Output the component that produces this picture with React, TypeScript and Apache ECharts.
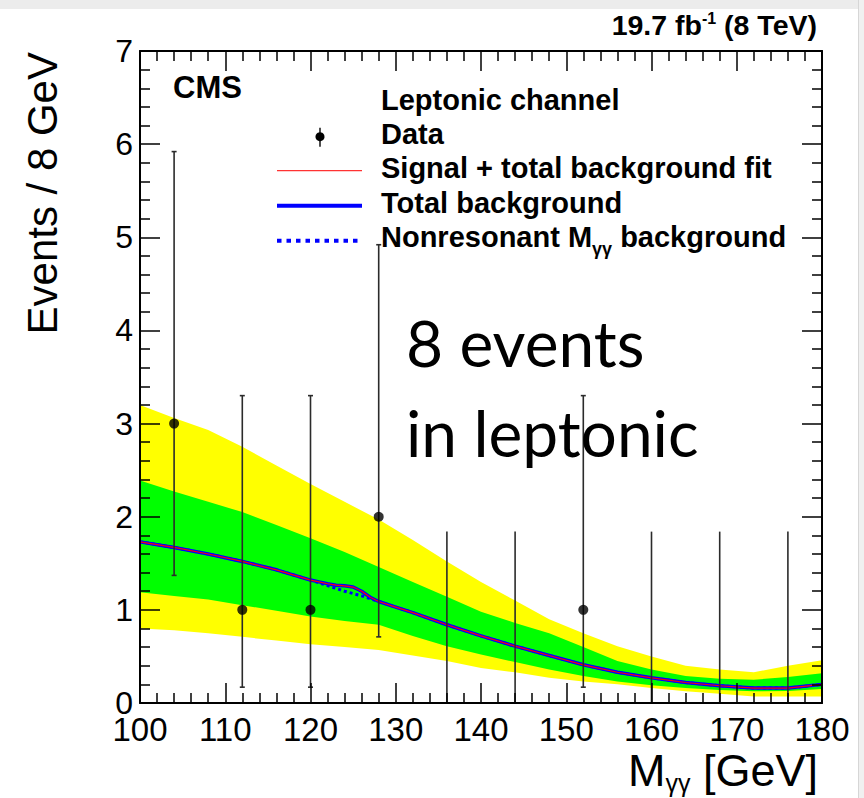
import React, { useEffect, useRef } from 'react';
import * as echarts from 'echarts';

// ---- Data ----
const binCenters = [104, 112, 120, 128, 136, 144, 152, 160, 168, 176];
const counts = [3, 1, 1, 2, 0, 0, 1, 0, 0, 0];
const errLow = [1.37, 0.17, 0.17, 0.71, 0, 0, 0.17, 0, 0, 0];
const errHigh = [5.92, 3.3, 3.3, 4.92, 1.84, 1.84, 3.3, 1.84, 1.84, 1.84];

const bandX = [100, 104, 108, 112, 116, 120, 124, 128, 132, 136, 140, 144, 148, 152, 156, 160, 164, 168, 172, 176, 180];
const yellowHigh = [3.2, 3.06, 2.93, 2.75, 2.55, 2.35, 2.16, 1.97, 1.75, 1.52, 1.3, 1.1, 0.9, 0.75, 0.61, 0.5, 0.4, 0.36, 0.33, 0.4, 0.46];
const greenHigh = [2.39, 2.27, 2.16, 2.05, 1.91, 1.77, 1.62, 1.46, 1.3, 1.14, 0.98, 0.86, 0.75, 0.6, 0.45, 0.36, 0.29, 0.26, 0.25, 0.28, 0.32];
const greenLow = [1.19, 1.15, 1.11, 1.05, 0.99, 0.93, 0.88, 0.84, 0.72, 0.61, 0.52, 0.44, 0.36, 0.29, 0.23, 0.19, 0.16, 0.14, 0.125, 0.13, 0.15];
const yellowLow = [0.8, 0.78, 0.75, 0.71, 0.67, 0.63, 0.6, 0.57, 0.51, 0.45, 0.375, 0.33, 0.27, 0.23, 0.2, 0.16, 0.125, 0.1, 0.07, 0.07, 0.07];

const curveX = [100, 104, 108, 112, 116, 120, 121, 122, 123, 124, 125, 126, 127, 128, 130, 132, 136, 140, 144, 148, 152, 156, 160, 164, 168, 172, 176, 180];
const totalBkg = [1.73, 1.67, 1.6, 1.52, 1.43, 1.32, 1.3, 1.28, 1.265, 1.258, 1.245, 1.2, 1.135, 1.09, 1.03, 0.97, 0.84, 0.72, 0.61, 0.51, 0.41, 0.33, 0.27, 0.22, 0.185, 0.16, 0.16, 0.2];
const nonresBkg = [1.73, 1.67, 1.6, 1.52, 1.43, 1.32, 1.29, 1.26, 1.23, 1.2, 1.175, 1.15, 1.12, 1.09, 1.03, 0.97, 0.84, 0.72, 0.61, 0.51, 0.41, 0.33, 0.27, 0.22, 0.185, 0.16, 0.16, 0.2];

const legendLabels = ['Leptonic channel', 'Data', 'Signal + total background fit', 'Total background'];
const FONT = 'Liberation Sans';

let measureCtx: CanvasRenderingContext2D | null = null;
function textWidth(t: string, size: number, weight = 'normal', family = FONT) {
  if (!measureCtx) measureCtx = document.createElement('canvas').getContext('2d');
  measureCtx!.font = `${weight} ${size}px "${family}"`;
  return measureCtx!.measureText(t).width;
}

function T(x: number, y: number, text: string, size: number, o: any = {}) {
  const align = o.align || 'left';
  return {
    type: 'text',
    x,
    y,
    rotation: o.rotation || 0,
    z: 20,
    silent: true,
    style: {
      text,
      fontSize: size,
      fontWeight: o.weight || 'normal',
      fontFamily: o.family || FONT,
      fill: o.color || '#000',
      align,
      textAlign: align,
      verticalAlign: 'middle',
      textVerticalAlign: 'middle',
    },
  };
}

function pieces(xRight: number | null, xLeft: number | null, y: number, parts: any[]) {
  const widths = parts.map((p) => textWidth(p.t, p.s, p.w || 'normal'));
  const total = widths.reduce((a, b) => a + b, 0);
  let x = xLeft !== null ? xLeft : (xRight as number) - total;
  const out: any[] = [];
  parts.forEach((p, i) => {
    out.push(T(x, y + (p.dy || 0), p.t, p.s, { weight: p.w }));
    x += widths[i];
  });
  return out;
}

const axisCommon = (pos: string, showLabel: boolean, isX: boolean) => ({
  type: 'value',
  position: pos,
  z: 10,
  ...(isX ? { min: 100, max: 180, interval: 10 } : { min: 0, max: 7, interval: 1 }),
  axisLine: { show: true, onZero: false, lineStyle: { color: '#000', width: 2 } },
  axisTick: { show: true, inside: true, length: 20, lineStyle: { color: '#000', width: 1.5 } },
  minorTick: { show: true, splitNumber: 5, length: 10, lineStyle: { color: '#000', width: 1.5 } },
  splitLine: { show: false },
  minorSplitLine: { show: false },
  axisLabel: {
    show: showLabel,
    fontSize: isX ? 33 : 32,
    fontFamily: FONT,
    color: '#000',
    margin: isX ? 10 : 7,
  },
});

export default function App() {
  const ref = useRef<HTMLDivElement>(null);
  useEffect(() => {
    if (!ref.current) return;
    const chart = echarts.init(ref.current, undefined, { renderer: 'svg' });

    const pair = (xs: number[], ys: number[]) => xs.map((x, i) => [x, ys[i]]);

    const bandPolygon = (api: any, hi: number[], lo: number[]) => {
      const pts: number[][] = [];
      bandX.forEach((x, i) => pts.push(api.coord([x, hi[i]])));
      for (let i = bandX.length - 1; i >= 0; i--) pts.push(api.coord([bandX[i], lo[i]]));
      return pts;
    };

    const legX = 381;
    const rowY = [99.6, 133.9, 168.3, 202.6, 237.0];
    const LF = 29;

    const graphics: any[] = [
      { type: 'rect', z: 0, silent: true, shape: { x: 0, y: 0, width: 864, height: 9 }, style: { fill: '#ececec' } },
      { type: 'rect', z: 0, silent: true, shape: { x: 858, y: 0, width: 6, height: 798 }, style: { fill: '#f0f0f0' } },
      { type: 'line', z: 0, silent: true, shape: { x1: 858.5, y1: 0, x2: 858.5, y2: 798 }, style: { stroke: '#d6d6d6', lineWidth: 1 } },
      // lumi
      ...pieces(817, null, 25.3, [
        { t: '19.7 fb', s: 28.5, w: 'bold' },
        { t: '-1', s: 16, w: 'bold', dy: -7 },
        { t: ' (8 TeV)', s: 28.5, w: 'bold' },
      ]),
      T(173, 87, 'CMS', 31, { weight: 'bold' }),
      // legend
      T(legX, rowY[0], legendLabels[0], LF, { weight: 'bold' }),
      T(legX, rowY[1], legendLabels[1], LF, { weight: 'bold' }),
      T(legX, rowY[2], legendLabels[2], LF, { weight: 'bold' }),
      T(legX, rowY[3], legendLabels[3], LF, { weight: 'bold' }),
      ...pieces(null, legX, rowY[4], [
        { t: 'Nonresonant M', s: LF, w: 'bold' },
        { t: 'γγ', s: 18, w: 'bold', dy: 12 },
        { t: ' background', s: LF, w: 'bold' },
      ]),
      { type: 'line', z: 20, silent: true, shape: { x1: 320, y1: 127.7, x2: 320, y2: 146.7 }, style: { stroke: '#222', lineWidth: 1.6 } },
      { type: 'circle', z: 21, silent: true, shape: { cx: 320, cy: 136.7, r: 4.5 }, style: { fill: '#000' } },
      { type: 'line', z: 20, silent: true, shape: { x1: 277, y1: 170.7, x2: 362, y2: 170.7 }, style: { stroke: '#ff3333', lineWidth: 1.3 } },
      { type: 'line', z: 20, silent: true, shape: { x1: 277, y1: 205.7, x2: 362, y2: 205.7 }, style: { stroke: '#0000ff', lineWidth: 4 } },
      { type: 'line', z: 20, silent: true, shape: { x1: 277, y1: 240.7, x2: 362, y2: 240.7 }, style: { stroke: '#0000ff', lineWidth: 4, lineDash: [4.5, 5] } },
      // annotation
      T(406, 342, '8 events', 64, { family: 'Lato' }),
      T(406, 432, 'in leptonic', 64, { family: 'Lato' }),
      // axis titles
      ...pieces(818, null, 770, [
        { t: 'M', s: 45 },
        { t: 'γγ', s: 25, dy: 13 },
        { t: ' [GeV]', s: 45 },
      ]),
      T(42, 52, 'Events / 8 GeV', 42, { rotation: Math.PI / 2, align: 'right' }),
    ];

    const option: any = {
      animation: false,
      backgroundColor: '#ffffff',
      grid: { left: 140, top: 51, width: 682, height: 652, containLabel: false, outerBoundsMode: 'none' },
      xAxis: [axisCommon('bottom', true, true), axisCommon('top', false, true)],
      yAxis: [axisCommon('left', true, false), axisCommon('right', false, false)],
      series: [
        {
          type: 'custom',
          name: 'bands',
          silent: true,
          z: 1,
          clip: false,
          data: [[bandX[0], yellowHigh[0]]],
          encode: { x: 0, y: 1 },
          renderItem: (params: any, api: any) => ({
            type: 'group',
            children: [
              { type: 'polygon', shape: { points: bandPolygon(api, yellowHigh, yellowLow) }, style: { fill: '#ffff00', stroke: 'none' } },
              { type: 'polygon', shape: { points: bandPolygon(api, greenHigh, greenLow) }, style: { fill: '#00ff00', stroke: 'none' } },
            ],
          }),
        },
        {
          type: 'line',
          name: 'Nonresonant',
          data: pair(curveX, nonresBkg),
          symbol: 'none',
          silent: true,
          z: 2,
          lineStyle: { color: '#0000ff', width: 3, type: [3, 3] },
        },
        {
          type: 'line',
          name: 'Total background',
          data: pair(curveX, totalBkg),
          symbol: 'none',
          silent: true,
          z: 3,
          lineStyle: { color: '#0000ff', width: 3.5 },
        },
        {
          type: 'line',
          name: 'Signal + total background fit',
          data: pair(curveX, totalBkg),
          symbol: 'none',
          silent: true,
          z: 4,
          lineStyle: { color: '#ff0000', width: 1.2 },
        },
        {
          type: 'custom',
          name: 'errors',
          silent: true,
          z: 5,
          data: binCenters.map((x, i) => [x, errLow[i], errHigh[i], counts[i]]),
          encode: { x: 0, y: [1, 2] },
          renderItem: (params: any, api: any) => {
            const x = api.value(0);
            const lo = api.value(1);
            const hi = api.value(2);
            const n = api.value(3);
            const a = api.coord([x, lo]);
            const b = api.coord([x, hi]);
            const st = { stroke: '#2b2b2b', lineWidth: 1.6 };
            const children: any[] = [
              { type: 'line', shape: { x1: a[0], y1: a[1], x2: b[0], y2: b[1] }, style: st },
            ];
            if (n > 0) {
              children.push({ type: 'line', shape: { x1: a[0] - 2.5, y1: a[1], x2: a[0] + 2.5, y2: a[1] }, style: st });
              children.push({ type: 'line', shape: { x1: b[0] - 2.5, y1: b[1], x2: b[0] + 2.5, y2: b[1] }, style: st });
            }
            return { type: 'group', children };
          },
        },
        {
          type: 'scatter',
          name: 'Data',
          silent: true,
          z: 6,
          symbol: 'circle',
          symbolSize: 10,
          itemStyle: { color: '#000' },
          data: binCenters.map((x, i) => [x, counts[i]]).filter((p) => p[1] > 0),
        },
      ],
      graphic: { elements: graphics },
    };

    chart.setOption(option);
    return () => chart.dispose();
  }, []);

  return (
    <div
      ref={ref}
      style={{ position: 'fixed', left: 0, top: 0, width: 864, height: 798, background: '#fff' }}
    />
  );
}
